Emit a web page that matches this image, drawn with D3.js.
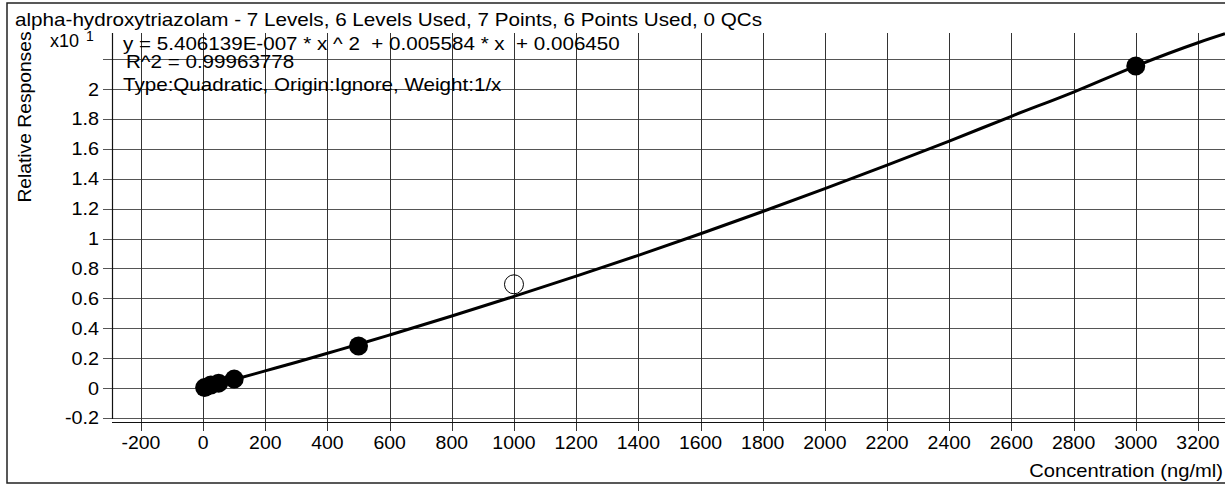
<!DOCTYPE html>
<html><head><meta charset="utf-8">
<script src="https://cdn.jsdelivr.net/npm/d3@7"></script>
<style>
html,body{margin:0;padding:0;background:#fff;}
svg{display:block;font-family:"Liberation Sans",Arial,sans-serif;}
</style></head>
<body>
<svg id="c" width="1225" height="484"></svg>
<script>
// ---- data ----
const title = "alpha-hydroxytriazolam - 7 Levels, 6 Levels Used, 7 Points, 6 Points Used, 0 QCs";
const eqLines = ["y = 5.406139E-007 * x ^ 2  + 0.005584 * x  + 0.006450", "R^2 = 0.99963778", "Type:Quadratic, Origin:Ignore, Weight:1/x"];
const xTicks = [-200,0,200,400,600,800,1000,1200,1400,1600,1800,2000,2200,2400,2600,2800,3000,3200];
const yTicks = [-0.2,0,0.2,0.4,0.6,0.8,1,1.2,1.4,1.6,1.8,2,2.2];
const yTickLabels = ["-0.2","0","0.2","0.4","0.6","0.8","1","1.2","1.4","1.6","1.8","2",""];
const usedConc = [5,25,50,100,500,3000];
const usedResp = [0.003,0.02,0.033,0.06,0.281,2.154];
const exclConc = [1000];
const exclResp = [0.694];
const curveConc = [0,100,200,300,400,500,600,800,1000,1200,1400,1600,1800,2000,2200,2400,2600,2800,3000,3200,3287];
const curveResp = [0.001,0.057,0.115,0.173,0.233,0.293,0.355,0.482,0.613,0.749,0.888,1.032,1.181,1.334,1.491,1.652,1.818,1.98,2.154,2.31,2.37];

const svg = d3.select("#c");
const L = 112, R = 1225, T = 33, B = 422;
const x = d3.scaleLinear().domain([-293, 3287]).range([L, R]);
const y = d3.scaleLinear().domain([-0.227, 2.375]).range([B, T]);
const SX = 1.145; // horizontal stretch of the original font

function txt(sel, px, py, str, size, anchor, sx, rot) {
  return sel.append("text")
    .attr("transform", `translate(${px},${py})${rot ? " rotate(" + rot + ")" : ""} scale(${sx||SX},1)`)
    .attr("text-anchor", anchor || "start")
    .attr("font-size", size).attr("fill", "#000")
    .attr("xml:space", "preserve").style("white-space", "pre")
    .text(str);
}

// frame
svg.append("path").attr("d", `M1225,3 H7 V483 H1225`).attr("fill","none").attr("stroke","#222").attr("stroke-width",1.5);

// horizontal gridlines
svg.append("g").selectAll("line").data(yTicks).join("line")
  .attr("x1", 103).attr("x2", R)
  .attr("y1", d => Math.round(y(d))+0.5).attr("y2", d => Math.round(y(d))+0.5)
  .attr("stroke", "#555").attr("stroke-width", 1);
// vertical gridlines
svg.append("g").selectAll("line").data(xTicks).join("line")
  .attr("x1", d => Math.round(x(d))+0.5).attr("x2", d => Math.round(x(d))+0.5)
  .attr("y1", T).attr("y2", 431)
  .attr("stroke", "#333").attr("stroke-width", 1);

// axes lines
svg.append("line").attr("x1", L+0.5).attr("x2", L+0.5).attr("y1", T).attr("y2", 419).attr("stroke","#111").attr("stroke-width",1.2);
svg.append("line").attr("x1", L).attr("x2", R).attr("y1", B+0.5).attr("y2", B+0.5).attr("stroke","#111").attr("stroke-width",1.2);

// tick labels
const gx = svg.append("g");
xTicks.forEach(d => txt(gx, x(d), 449, String(d), 18, "middle", 1.08));
const gy = svg.append("g");
yTicks.forEach((d,i) => txt(gy, 99, y(d)+6.5, yTickLabels[i], 18, "end", 1.1));

// exponent label
txt(svg, 50, 47, "x10", 18, "start", 1.0);
txt(svg, 86, 41, "1", 14, "start", 1.0);

// axis titles
txt(svg, 31, 117, "Relative Responses", 18, "middle", 1.07, -90);
txt(svg, 1223, 477, "Concentration (ng/ml)", 18, "end", 1.12);

// title
txt(svg, 15, 26, title, 18, "start", 1.148);

// equation block
const eqY = [50, 68, 91];
const eqX = [123, 126, 123];
const g3 = svg.append("g");
eqLines.forEach((s,i) => txt(g3, eqX[i], eqY[i], s, 18, "start", 1.145));

// fit curve
const pts = curveConc.map((c,i) => [c, curveResp[i]]);
svg.append("path").datum(pts)
  .attr("d", d3.line().x(d => x(d[0])).y(d => y(d[1])).curve(d3.curveMonotoneX))
  .attr("fill","none").attr("stroke","#000").attr("stroke-width",3);

// points
svg.append("g").selectAll("circle").data(usedConc.map((c,i)=>[c,usedResp[i]])).join("circle")
  .attr("cx", d => x(d[0])).attr("cy", d => y(d[1])).attr("r", 9.5).attr("fill","#000");
svg.append("g").selectAll("circle").data(exclConc.map((c,i)=>[c,exclResp[i]])).join("circle")
  .attr("cx", d => x(d[0])).attr("cy", d => y(d[1])).attr("r", 9.5)
  .attr("fill","none").attr("stroke","#000").attr("stroke-width",1);
</script>
</body></html>
